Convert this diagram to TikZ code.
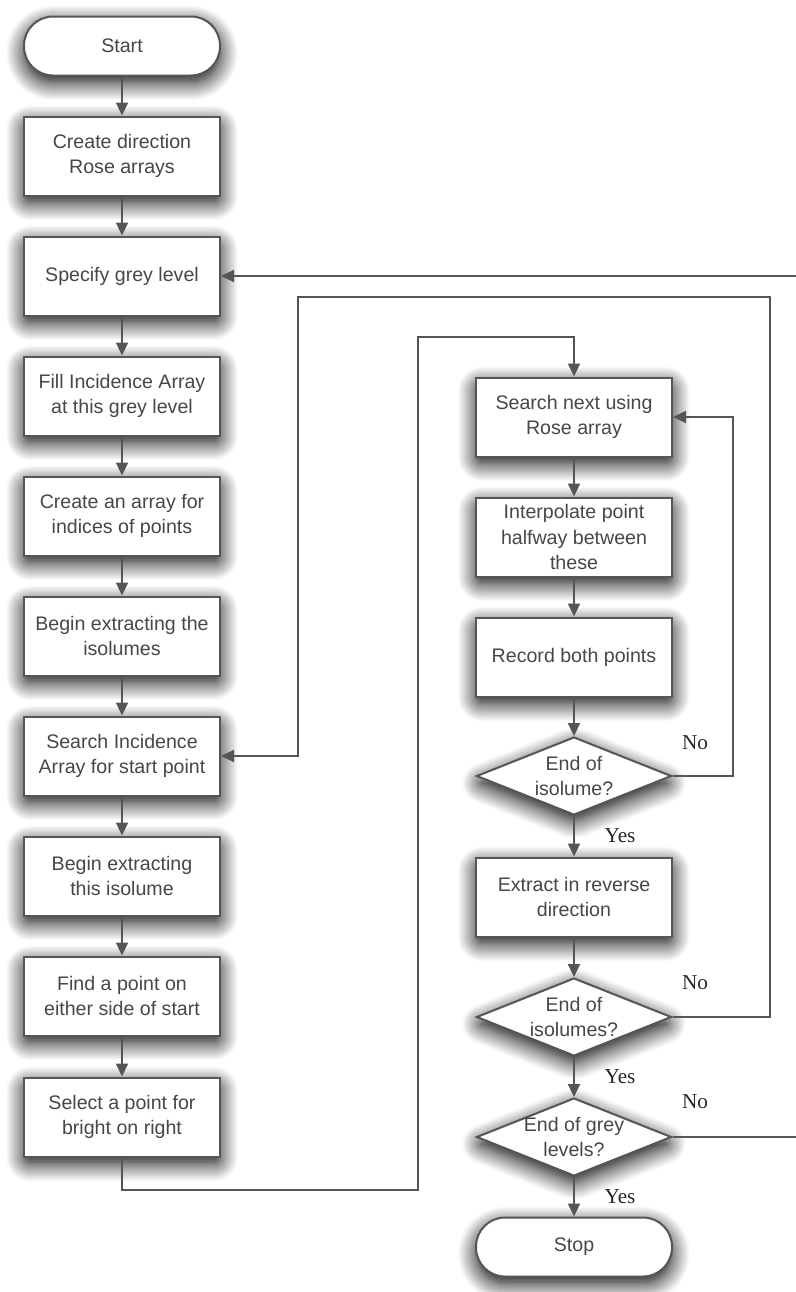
\documentclass[tikz,border=0pt]{standalone}
\usepackage{fontspec}
\setmainfont{Liberation Sans}
\newfontfamily\yesnofont{Liberation Serif}
\usetikzlibrary{arrows.meta,shapes.geometric,shadows.blur}

\definecolor{ink}{HTML}{555555}
\definecolor{boxtext}{HTML}{474747}

\tikzset{
  soft/.style={blur shadow={shadow xshift=0pt,shadow yshift=-3.5pt,
      shadow blur radius=9pt,shadow blur steps=14,shadow opacity=100,
      shadow blur extra rounding=3pt}},
  flowbox/.style={draw=ink,line width=1pt,fill=white,soft,
    minimum width=98pt,minimum height=39.5pt,inner sep=1pt,
    align=center,text=boxtext,font=\fontsize{9.8}{12.6}\selectfont},
  term/.style={flowbox,rounded corners=14.5pt,minimum height=29.5pt},
  decision/.style={diamond,aspect=2.5,draw=ink,line width=1pt,fill=white,soft,
    minimum width=97.5pt,minimum height=39pt,inner sep=0pt},
  dtext/.style={align=center,text=boxtext,inner sep=0pt,
    font=\fontsize{9.8}{12.6}\selectfont},
  yesno/.style={text=black!85,font=\yesnofont\fontsize{10.6}{12}\selectfont},
  flow/.style={draw=ink,line width=1pt}
}

\begin{document}
\begin{tikzpicture}[x=0.5pt,y=-0.5pt,>={Triangle[length=6.5pt,width=6pt]}]
  \useasboundingbox (0,0) rectangle (796,1292);

  % left column
  \node[term]    (start) at (122,46)   {Start};
  \node[flowbox] (rose)  at (122,156)  {Create direction\\Rose arrays};
  \node[flowbox] (grey)  at (122,276)  {Specify grey level};
  \node[flowbox] (fill)  at (122,396)  {Fill Incidence Array\\at this grey level};
  \node[flowbox] (index) at (122,516)  {Create an array for\\indices of points};
  \node[flowbox] (begin) at (122,636)  {Begin extracting the\\isolumes};
  \node[flowbox] (find)  at (122,756)  {Search Incidence\\Array for start point};
  \node[flowbox] (this)  at (122,876)  {Begin extracting\\this isolume};
  \node[flowbox] (side)  at (122,996)  {Find a point on\\either side of start};
  \node[flowbox] (sel)   at (122,1117) {Select a point for\\bright on right};

  % right column
  \node[flowbox]  (next)  at (574,417)  {Search next using\\Rose array};
  \node[flowbox]  (interp) at (574,537) {Interpolate point\\halfway between\\these};
  \node[flowbox]  (rec)   at (574,657)  {Record both points};
  \node[decision, label={[dtext]center:End of\\isolume?}]  (endiso)  at (574,776) {};
  \node[flowbox]  (rev)   at (574,897)  {Extract in reverse\\direction};
  \node[decision, label={[dtext]center:End of\\isolumes?}] (endisos) at (574,1017) {};
  \node[decision, label={[dtext]center:End of grey\\levels?}] (endgrey) at (574,1137) {};
  \node[term]     (stop)  at (574,1247) {Stop};

  % yes / no labels
  \node[yesno] (no1)  at (695,743)  {No};
  \node[yesno] (yes1) at (620,836)  {Yes};
  \node[yesno] (no2)  at (695,983)  {No};
  \node[yesno] (yes2) at (620,1077) {Yes};
  \node[yesno] (no3)  at (695,1102) {No};
  \node[yesno] (yes3) at (620,1197) {Yes};

  % turning points of the loops
  \coordinate (s1) at (122,1190);
  \coordinate (s2) at (418,1190);
  \coordinate (s3) at (418,337);
  \coordinate (s4) at (574,337);
  \coordinate (n1) at (733,776);
  \coordinate (n2) at (733,417);
  \coordinate (m1) at (770,1017);
  \coordinate (m2) at (770,297);
  \coordinate (m3) at (298,297);
  \coordinate (m4) at (298,756);
  \coordinate (g1) at (806,1137);
  \coordinate (g2) at (806,276);

  % straight arrows
  \draw[flow,->] (start) -- (rose);
  \draw[flow,->] (rose) -- (grey);
  \draw[flow,->] (grey) -- (fill);
  \draw[flow,->] (fill) -- (index);
  \draw[flow,->] (index) -- (begin);
  \draw[flow,->] (begin) -- (find);
  \draw[flow,->] (find) -- (this);
  \draw[flow,->] (this) -- (side);
  \draw[flow,->] (side) -- (sel);
  \draw[flow,->] (next) -- (interp);
  \draw[flow,->] (interp) -- (rec);
  \draw[flow,->] (rec) -- (endiso);
  \draw[flow,->] (endiso) -- (rev);
  \draw[flow,->] (rev) -- (endisos);
  \draw[flow,->] (endisos) -- (endgrey);
  \draw[flow,->] (endgrey) -- (stop);

  % loops
  \draw[flow,->] (sel.south) -- (s1) -- (s2) -- (s3) -- (s4) -- (next.north);
  \draw[flow,->] (endiso.east) -- (n1) -- (n2) -- (next.east);
  \draw[flow,->] (endisos.east) -- (m1) -- (m2) -- (m3) -- (m4) -- (find.east);
  \draw[flow,->] (endgrey.east) -- (g1) -- (g2) -- (grey.east);
\end{tikzpicture}
\end{document}
